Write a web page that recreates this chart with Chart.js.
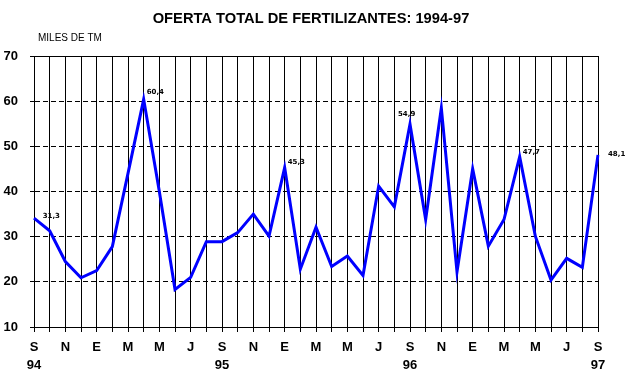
<!DOCTYPE html>
<html>
<head>
<meta charset="utf-8">
<script src="https://cdn.jsdelivr.net/npm/chart.js@4/dist/chart.umd.min.js"></script>
<style>
    html, body { margin: 0; padding: 0; background: #fff; }
    #wrap { width: 642px; height: 387px; }
</style>
</head>
<body>
<div id="wrap"><canvas id="fertChart" width="642" height="387"></canvas></div>
<script>
// meses (S 1994 - S 1997)
const months = ['S', 'O', 'N', 'D', 'E', 'F', 'M', 'A', 'M', 'J', 'J', 'A',
                'S', 'O', 'N', 'D', 'E', 'F', 'M', 'A', 'M', 'J', 'J', 'A',
                'S', 'O', 'N', 'D', 'E', 'F', 'M', 'A', 'M', 'J', 'J', 'A',
                'S'];
const years = {0: '94', 12: '95', 24: '96', 36: '97'};

// oferta total, miles de TM
const oferta = [34.1, 31.3, 24.5, 20.9, 22.5, 27.8, 44.0, 60.4, 40.0, 18.3, 21.0, 28.9,
                28.9, 30.9, 35.0, 30.1, 45.3, 22.8, 32.1, 23.4, 25.7, 21.4, 41.2, 36.6,
                54.9, 33.8, 58.5, 22.2, 45.0, 27.9, 33.8, 47.7, 30.1, 20.4, 25.2, 23.2,
                48.1];

const yTicks = [10, 20, 30, 40, 50, 60, 70];

// puntos con etiqueta de valor
const labeled = [1, 7, 16, 24, 31, 36];

const labelOffsets = {1: [-7, -13], 7: [3, -5], 16: [3, -4], 24: [-12, -8], 31: [3, -3], 36: [10, 1]};

const extras = {
    id: 'extras',
    afterDraw(chart) {
        let ctx = chart.ctx;
        let area = chart.chartArea;
        ctx.save();
        // linea superior solida
        ctx.strokeStyle = '#000';
        ctx.lineWidth = 1;
        ctx.beginPath();
        ctx.moveTo(area.left - 4, Math.round(area.top) + 0.5);
        ctx.lineTo(area.right, Math.round(area.top) + 0.5);
        ctx.stroke();

        ctx.fillStyle = '#000';
        ctx.textBaseline = 'alphabetic';
        ctx.textAlign = 'center';
        ctx.font = 'bold 14.7px "Liberation Sans", Arial, sans-serif';
        ctx.fillText('OFERTA TOTAL DE FERTILIZANTES: 1994-97', 311, 23);

        ctx.textAlign = 'left';
        ctx.font = '10px "Liberation Sans", Arial, sans-serif';
        ctx.fillText('MILES DE TM', 38, 41);

        let meta = chart.getDatasetMeta(0);
        ctx.font = 'bold 7px "DejaVu Sans", sans-serif';
        labeled.forEach(function (i) {
            let p = meta.data[i];
            let off = labelOffsets[i];
            let txt = oferta[i].toFixed(1).replace('.', ',');
            ctx.fillText(txt, p.x + off[0], p.y + off[1]);
        });
        ctx.restore();
    }
};

let ctx = document.getElementById('fertChart').getContext('2d');
let myChart = new Chart(ctx, {
    type: 'line',
    data: {
        labels: months,
        datasets: [{
            label: 'Oferta total',
            data: oferta,
            borderColor: 'rgb(0,0,255)',
            borderWidth: 3,
            pointRadius: 0,
            tension: 0,
            fill: false
        }]
    },
    options: {
        responsive: false,
        animation: false,
        layout: {
            padding: {top: 56, right: 44, left: 0, bottom: 0}
        },
        plugins: {
            legend: {display: false},
            title: {display: false},
            tooltip: {enabled: false}
        },
        scales: {
            x: {
                offset: false,
                grid: {
                    color: '#000',
                    lineWidth: 1,
                    tickLength: 5,
                    drawOnChartArea: true
                },
                border: {color: '#000', width: 1},
                ticks: {
                    autoSkip: false,
                    maxRotation: 0,
                    padding: 7,
                    color: '#000',
                    font: {family: '"Liberation Sans", Arial, sans-serif', size: 13, weight: 'bold', lineHeight: 1.35},
                    callback: function (value, index) {
                        if (index % 2 !== 0) return '';
                        if (years[index]) return [months[index], years[index]];
                        return months[index];
                    }
                },
                afterFit: function (scale) { scale.height = 60; }
            },
            y: {
                min: 10,
                max: 70,
                afterBuildTicks: function (scale) {
                    scale.ticks = yTicks.map(function (v) { return {value: v}; });
                },
                grid: {
                    color: '#000',
                    lineWidth: 1,
                    tickLength: 4
                },
                border: {color: '#000', width: 1, dash: [5, 3]},
                ticks: {
                    padding: 12,
                    color: '#000',
                    font: {family: '"Liberation Sans", Arial, sans-serif', size: 13, weight: 'bold'}
                },
                afterFit: function (scale) { scale.width = 34; }
            }
        }
    },
    plugins: [extras]
});
</script>
</body>
</html>
